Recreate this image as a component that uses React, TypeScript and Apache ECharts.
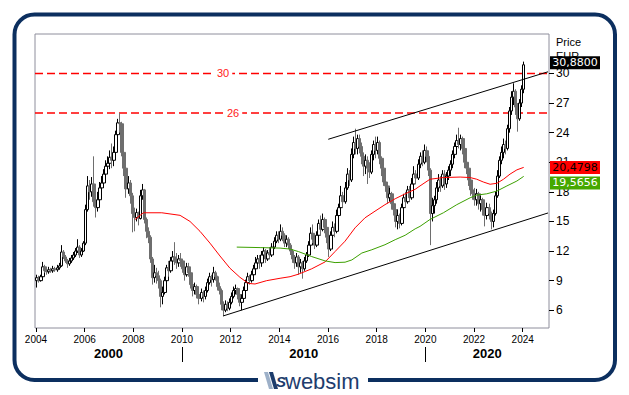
import React, { useEffect, useRef } from 'react';
import * as echarts from 'echarts';

// ---------- data (monthly candles, Jan 2004 .. Jan 2024) ----------
const START_YEAR = 2004;
const FIRST_OPEN = 9.0;

const closes = [
  9.3, 9.0, 9.4, 10.4, 10.0, 9.9, 10.1, 10.0, 10.2, 10.1, 10.3, 10.5,
  11.9, 11.4, 11.0, 10.7, 11.0, 11.3, 11.6, 12.0, 12.4, 11.6, 12.0, 12.8,
  16.2, 18.6, 18.0, 18.8, 17.0, 16.4, 17.2, 18.4, 18.9, 19.8, 20.6, 20.9,
  21.5, 21.2, 22.0, 23.8, 25.0, 24.9, 22.0, 20.4, 18.3, 18.9, 17.6, 15.8,
  15.4, 15.9, 15.3, 17.6, 18.2, 15.2, 14.0, 13.4, 11.2, 9.3, 9.8, 9.5,
  9.0, 7.4, 7.8, 9.0, 10.3, 10.0, 11.0, 11.4, 11.0, 10.8, 11.2, 11.0,
  10.2, 9.6, 10.4, 9.8, 8.6, 8.0, 8.4, 7.6, 7.2, 7.8, 7.4, 8.0,
  8.8, 9.4, 9.1, 9.8, 9.4, 8.4, 8.0, 6.6, 6.0, 6.6, 6.2, 6.8,
  7.4, 8.0, 8.2, 7.6, 6.8, 7.2, 8.0, 8.8, 9.4, 9.0, 9.6, 10.2,
  10.8, 11.2, 10.8, 11.6, 12.0, 11.2, 11.8, 11.6, 12.4, 13.0, 13.6, 13.2,
  14.0, 13.6, 12.8, 13.2, 12.6, 12.0, 11.2, 10.8, 11.4, 10.4, 10.8, 10.2,
  11.0, 11.6, 12.6, 13.8, 13.2, 12.6, 13.6, 14.8, 14.2, 15.2, 14.4, 13.4,
  12.2, 13.6, 14.4, 14.0, 15.6, 16.4, 17.6, 17.0, 18.4, 19.8, 19.2, 21.8,
  23.0, 22.4, 23.4, 22.6, 21.6, 20.6, 21.2, 20.4, 20.0, 21.8, 22.8, 22.2,
  23.0, 21.4, 20.4, 19.0, 18.6, 17.4, 17.8, 16.8, 16.2, 15.0, 15.6, 14.8,
  16.4, 17.4, 17.0, 18.2, 17.4, 18.8, 19.8, 19.4, 20.8, 21.6, 21.0, 22.2,
  21.6, 20.2, 15.8, 16.6, 17.2, 18.4, 19.2, 18.6, 19.8, 18.8, 19.6, 20.2,
  20.8, 21.8, 22.6, 23.2, 22.8, 23.4, 22.4, 21.0, 20.4, 19.2, 18.2, 17.8,
  17.2, 17.8, 16.8, 17.2, 16.2, 15.6, 16.4, 15.8, 15.0, 15.8, 17.6, 19.6,
  21.2, 22.0, 22.8, 22.4, 24.4, 26.2, 27.6, 28.2, 26.6, 25.4, 27.0, 28.4,
  30.88,
];

const highs = [
  9.6, 9.5, 9.6, 10.9, 10.6, 10.3, 10.4, 10.3, 10.5, 10.4, 10.6, 10.8,
  12.6, 12.1, 11.6, 11.2, 11.3, 11.6, 11.9, 12.3, 13.2, 12.6, 12.3, 13.0,
  16.7, 19.6, 19.2, 19.5, 21.6, 17.8, 18.0, 19.0, 19.6, 20.3, 21.2, 21.6,
  22.2, 22.9, 22.6, 24.2, 25.4, 26.0, 25.1, 22.2, 20.6, 19.6, 19.2, 17.9,
  16.4, 16.3, 16.0, 18.2, 18.8, 18.3, 15.4, 14.4, 13.6, 11.4, 10.6, 10.3,
  10.0, 9.2, 8.4, 9.4, 10.6, 11.0, 11.4, 12.0, 12.9, 11.8, 11.6, 11.8,
  11.2, 10.4, 10.8, 10.8, 10.0, 8.9, 8.8, 8.6, 7.8, 8.2, 8.0, 8.4,
  9.2, 9.8, 9.6, 10.4, 10.0, 9.5, 8.8, 8.2, 6.9, 7.0, 6.9, 7.2,
  7.8, 8.4, 8.6, 8.3, 7.8, 7.6, 8.4, 9.1, 9.8, 9.6, 10.0, 10.6,
  11.4, 11.6, 11.6, 12.0, 12.4, 12.2, 12.1, 12.4, 12.8, 13.4, 14.0, 14.0,
  14.7, 14.4, 13.8, 13.6, 13.4, 12.8, 12.2, 11.6, 11.8, 11.6, 11.2, 11.0,
  11.4, 11.9, 13.0, 14.4, 14.7, 13.6, 14.0, 15.2, 15.6, 15.8, 15.4, 14.6,
  13.6, 14.0, 15.0, 14.8, 16.2, 16.8, 18.6, 18.0, 19.0, 20.4, 20.2, 22.4,
  23.6, 24.4, 23.8, 23.8, 23.0, 22.0, 21.8, 21.6, 21.0, 22.2, 23.2, 23.6,
  23.6, 23.2, 21.6, 20.8, 19.4, 18.8, 18.4, 18.0, 17.0, 16.4, 16.2, 15.8,
  16.8, 17.8, 18.0, 18.6, 18.6, 19.4, 20.6, 20.2, 21.3, 22.0, 22.2, 22.8,
  22.6, 22.2, 20.4, 17.4, 17.6, 19.0, 19.8, 19.6, 20.2, 20.2, 20.0, 20.6,
  21.2, 22.2, 23.0, 23.8, 24.5, 23.8, 23.6, 22.6, 21.4, 20.6, 19.6, 18.6,
  18.4, 18.3, 18.0, 17.6, 17.4, 16.6, 16.9, 16.8, 16.0, 16.2, 18.0, 20.2,
  21.6, 22.6, 23.4, 23.2, 24.8, 26.6, 28.2, 29.0, 28.4, 27.0, 27.4, 28.8,
  31.2,
];

const lows = [
  8.3, 8.8, 8.9, 9.3, 9.8, 9.6, 9.7, 9.8, 9.8, 9.9, 9.9, 10.1,
  10.4, 11.2, 10.8, 10.3, 10.5, 10.8, 11.1, 11.4, 11.8, 11.3, 11.4, 11.9,
  12.6, 16.0, 17.2, 17.5, 16.5, 15.4, 16.0, 16.8, 17.6, 18.4, 19.4, 19.8,
  20.3, 20.4, 20.6, 21.8, 23.4, 24.0, 21.6, 19.6, 17.4, 17.8, 16.8, 13.9,
  14.0, 15.0, 14.6, 15.2, 17.2, 14.8, 13.3, 12.8, 10.8, 8.6, 8.8, 8.7,
  8.2, 6.3, 6.6, 7.6, 8.8, 9.4, 9.8, 10.6, 10.6, 10.2, 10.4, 10.4,
  9.8, 9.0, 9.4, 9.4, 8.2, 7.4, 7.6, 7.2, 6.6, 6.9, 6.8, 7.1,
  7.8, 8.6, 8.4, 8.8, 9.0, 8.0, 7.6, 6.0, 5.4, 5.8, 5.9, 6.0,
  6.6, 7.2, 7.6, 7.1, 6.4, 6.0, 7.0, 7.8, 8.6, 8.6, 8.8, 9.4,
  10.0, 10.4, 10.2, 10.4, 11.2, 10.8, 11.0, 11.2, 11.4, 12.2, 12.8, 12.8,
  13.0, 13.0, 12.4, 12.4, 12.2, 11.6, 10.8, 10.2, 10.4, 9.6, 9.8, 9.2,
  10.0, 10.8, 11.4, 12.4, 12.8, 12.2, 12.4, 13.4, 13.6, 14.0, 13.8, 12.8,
  11.4, 12.0, 13.4, 13.4, 13.8, 15.0, 16.2, 16.4, 16.8, 18.2, 18.6, 19.0,
  21.4, 21.8, 21.8, 21.9, 20.8, 19.6, 19.8, 18.8, 19.4, 19.8, 21.2, 21.4,
  21.8, 20.8, 19.6, 18.6, 18.0, 16.8, 17.0, 16.2, 15.6, 14.4, 14.2, 14.3,
  14.6, 16.0, 16.4, 16.8, 17.0, 17.2, 18.6, 18.8, 19.2, 20.4, 20.6, 20.8,
  21.0, 19.6, 12.6, 15.0, 15.8, 16.8, 18.0, 18.0, 18.4, 18.2, 18.4, 19.2,
  19.6, 20.4, 21.4, 22.2, 22.4, 22.2, 21.8, 20.4, 19.8, 18.6, 17.6, 17.2,
  16.6, 16.6, 16.2, 16.0, 15.6, 14.5, 15.2, 15.2, 14.2, 14.4, 15.6, 17.4,
  19.4, 20.8, 21.4, 21.8, 22.2, 24.0, 25.8, 26.8, 25.8, 24.1, 25.2, 26.6,
  28.0,
];

// moving averages: [year, value]
const redMA: [number, number][] = [
  [2008.07, 15.2], [2008.41, 15.88], [2009.17, 15.88], [2009.92, 15.62],
  [2010.33, 15.0], [2010.74, 14.0], [2011.15, 12.8], [2011.56, 11.5],
  [2011.97, 10.26], [2012.38, 9.34], [2012.73, 8.72], [2013.0, 8.66],
  [2013.48, 9.0], [2014.03, 9.24], [2014.44, 9.4], [2014.78, 9.65],
  [2015.33, 10.2], [2015.88, 10.9], [2016.29, 11.95], [2016.7, 13.0],
  [2017.11, 14.35], [2017.52, 15.37], [2017.93, 16.04], [2018.34, 16.7],
  [2018.76, 17.3], [2019.17, 17.8], [2019.58, 18.26], [2019.78, 18.6],
  [2020.19, 19.28], [2020.74, 19.45], [2021.43, 19.5], [2021.84, 19.45],
  [2022.11, 19.28], [2022.38, 19.0], [2022.66, 18.77], [2022.94, 18.87],
  [2023.21, 19.28], [2023.48, 19.8], [2023.76, 20.23], [2024.04, 20.48],
];

const greenMA: [number, number][] = [
  [2012.25, 12.4], [2013.21, 12.35], [2014.03, 12.3], [2014.44, 12.2],
  [2014.78, 11.95], [2015.33, 11.44], [2015.88, 11.0], [2016.29, 10.83],
  [2016.7, 10.87], [2016.98, 11.1], [2017.39, 11.8], [2017.8, 12.13],
  [2018.34, 12.64], [2018.76, 13.15], [2019.17, 13.6], [2019.58, 14.25],
  [2019.78, 14.5], [2020.19, 15.2], [2020.74, 15.88], [2021.29, 16.7],
  [2021.84, 17.4], [2022.11, 17.67], [2022.52, 17.8], [2022.94, 18.08],
  [2023.35, 18.6], [2023.76, 19.1], [2024.04, 19.57],
];

const lowerTrend: [number, number][] = [[2011.69, 5.42], [2025.04, 15.86]];
const upperTrend: [number, number][] = [[2016.01, 23.33], [2025.04, 30.17]];

const levels = [30, 26];
const levelLabelAt = [2011.69, 2012.1];

const yearTicks = [2004, 2006, 2008, 2010, 2012, 2014, 2016, 2018, 2020, 2022, 2024];
const decadeBreaks = [2010, 2020];
const decadeNames = ['2000', '2010', '2020'];
const yTicks = [6, 9, 12, 15, 18, 21, 24, 27, 30];

const lastClose = 30.88;
const redLast = 20.4798;
const greenLast = 19.5656;

const X_MIN = 2003.96;
const X_MAX = 2025.08;
const Y_MIN = 4.2;
const Y_MAX = 34;

const fmt4 = (v: number) => v.toFixed(4).replace('.', ',');

export default function App() {
  const ref = useRef<HTMLDivElement>(null);

  useEffect(() => {
    if (!ref.current) return;
    const chart = echarts.init(ref.current, null, { renderer: 'svg' });

    const candles = closes.map((c, i) => {
      const o = i === 0 ? FIRST_OPEN : closes[i - 1];
      return [START_YEAR + (i + 0.5) / 12, o, c, lows[i], highs[i]];
    });

    const decadeCenters = [
      (X_MIN + decadeBreaks[0]) / 2,
      (decadeBreaks[0] + decadeBreaks[1]) / 2,
      (decadeBreaks[1] + X_MAX) / 2,
    ];

    const tagLabel = (text: string, color: string) => ({
      show: true,
      position: 'inside',
      formatter: text,
      color,
      fontSize: 11,
      fontFamily: 'DejaVu Sans',
    });

    const option: any = {
      animation: false,
      backgroundColor: '#ffffff',
      grid: {
        left: 35, top: 34, width: 514, height: 294,
        show: true, borderColor: '#8e8e9c', borderWidth: 1, backgroundColor: '#ffffff',
        containLabel: false, outerBoundsMode: 'none',
      },
      xAxis: [
        {
          type: 'value', min: X_MIN, max: X_MAX, position: 'bottom',
          axisLine: { show: false }, splitLine: { show: false },
          axisTick: { show: true, customValues: yearTicks, length: 4, lineStyle: { color: '#000' } },
          axisLabel: {
            customValues: yearTicks, formatter: (v: number) => String(Math.round(v)),
            fontSize: 10, color: '#000', margin: 6, fontFamily: 'Liberation Sans',
          },
        },
        {
          type: 'value', min: X_MIN, max: X_MAX, position: 'bottom', offset: 19,
          axisLine: { show: false }, splitLine: { show: false },
          axisTick: { show: true, customValues: decadeBreaks, length: 15, lineStyle: { color: '#000' } },
          axisLabel: {
            customValues: decadeCenters,
            formatter: (v: number) => (v < decadeBreaks[0] ? decadeNames[0] : v < decadeBreaks[1] ? decadeNames[1] : decadeNames[2]),
            fontSize: 13, fontWeight: 'bold', color: '#000', margin: 0, fontFamily: 'Liberation Sans',
          },
        },
      ],
      yAxis: {
        type: 'value', min: Y_MIN, max: Y_MAX, position: 'right',
        axisLine: { show: false }, splitLine: { show: false },
        axisTick: { show: true, customValues: yTicks, length: 5, lineStyle: { color: '#000' } },
        axisLabel: {
          customValues: yTicks, formatter: (v: number) => String(v),
          fontSize: 12, color: '#000', margin: 7, fontFamily: 'Liberation Sans',
        },
      },
      series: [
        ...levels.map((lv) => ({
          type: 'line', data: [[X_MIN, lv], [X_MAX, lv]], symbol: 'none', silent: true,
          lineStyle: { color: '#ff0000', width: 1.5, type: [8, 4] },
          z: 1,
        })),
        {
          type: 'candlestick',
          data: candles,
          encode: { x: 0, y: [1, 2, 3, 4] },
          barWidth: 3,
          itemStyle: {
            color: '#ffffff', color0: '#6e6e6e',
            borderColor: '#000000', borderColor0: '#6e6e6e', borderWidth: 1,
          },
          z: 2,
          markPoint: {
            silent: true,
            data: [
              {
                coord: [X_MAX, lastClose], symbol: 'rect', symbolSize: [50, 13], symbolOffset: [26, -2],
                itemStyle: { color: '#000000' }, label: tagLabel(fmt4(lastClose), '#ffffff'),
              },
              ...levels.map((lv, i) => ({
                coord: [levelLabelAt[i], lv], symbol: 'rect', symbolSize: [1, 1],
                itemStyle: { color: 'rgba(0,0,0,0)' },
                label: {
                  show: true, position: 'inside', formatter: String(lv), color: '#ff2020',
                  backgroundColor: '#ffffff', padding: [0, 3], fontSize: 11, fontFamily: 'Liberation Sans',
                },
              })),
            ],
          },
        },
        {
          type: 'line', data: redMA, symbol: 'none', silent: true,
          lineStyle: { color: '#ff0000', width: 1 }, z: 3,
          markPoint: {
            silent: true,
            data: [{
              coord: [X_MAX, redLast], symbol: 'rect', symbolSize: [50, 13], symbolOffset: [26, 0],
              itemStyle: { color: '#ff0000' }, label: tagLabel(fmt4(redLast), '#000000'),
            }],
          },
        },
        {
          type: 'line', data: greenMA, symbol: 'none', silent: true,
          lineStyle: { color: '#3ca000', width: 1 }, z: 3,
          markPoint: {
            silent: true,
            data: [{
              coord: [X_MAX, greenLast], symbol: 'rect', symbolSize: [50, 13], symbolOffset: [26, 6.5],
              itemStyle: { color: '#46a800' }, label: tagLabel(fmt4(greenLast), '#ffffff'),
            }],
          },
        },
        {
          type: 'line', data: lowerTrend, symbol: 'none', silent: true,
          lineStyle: { color: '#000000', width: 1 }, z: 4,
        },
        {
          type: 'line', data: upperTrend, symbol: 'none', silent: true,
          lineStyle: { color: '#000000', width: 1 }, z: 4,
        },
      ],
      graphic: {
        elements: [
          {
            type: 'rect', silent: true,
            shape: { x: 14.5, y: 14.5, width: 600.5, height: 365.5, r: 20 },
            style: { fill: 'none', stroke: '#0c2f5f', lineWidth: 4 },
          },
          {
            type: 'rect', silent: true,
            shape: { x: 258, y: 370, width: 110, height: 20 },
            style: { fill: '#ffffff' },
          },
          {
            type: 'polygon', silent: true,
            shape: { points: [[264, 372], [268, 372], [273, 389], [269, 389]] },
            style: { fill: '#9db0c8' },
          },
          {
            type: 'polygon', silent: true,
            shape: { points: [[269, 372], [273, 372], [278, 389], [274, 389]] },
            style: { fill: '#1c3c6c' },
          },
          {
            type: 'text', silent: true, x: 276, y: 381,
            style: { text: 'S', fill: '#1c3c6c', font: 'italic bold 15px Liberation Sans', verticalAlign: 'middle' },
          },
          {
            type: 'text', silent: true, x: 285, y: 381,
            style: { text: 'websim', fill: '#1e3d6e', font: '22px Liberation Sans', verticalAlign: 'middle' },
          },
          {
            type: 'text', silent: true, x: 556, y: 36,
            style: { text: 'Price', fill: '#000', font: '11px Liberation Sans' },
          },
          {
            type: 'text', silent: true, x: 556, y: 50,
            style: { text: 'EUR', fill: '#000', font: '11px Liberation Sans' },
          },
        ],
      },
    };

    chart.setOption(option);
    return () => chart.dispose();
  }, []);

  return (
    <div
      ref={ref}
      style={{ position: 'absolute', left: 0, top: 0, width: 629, height: 395, background: '#fff' }}
    />
  );
}
